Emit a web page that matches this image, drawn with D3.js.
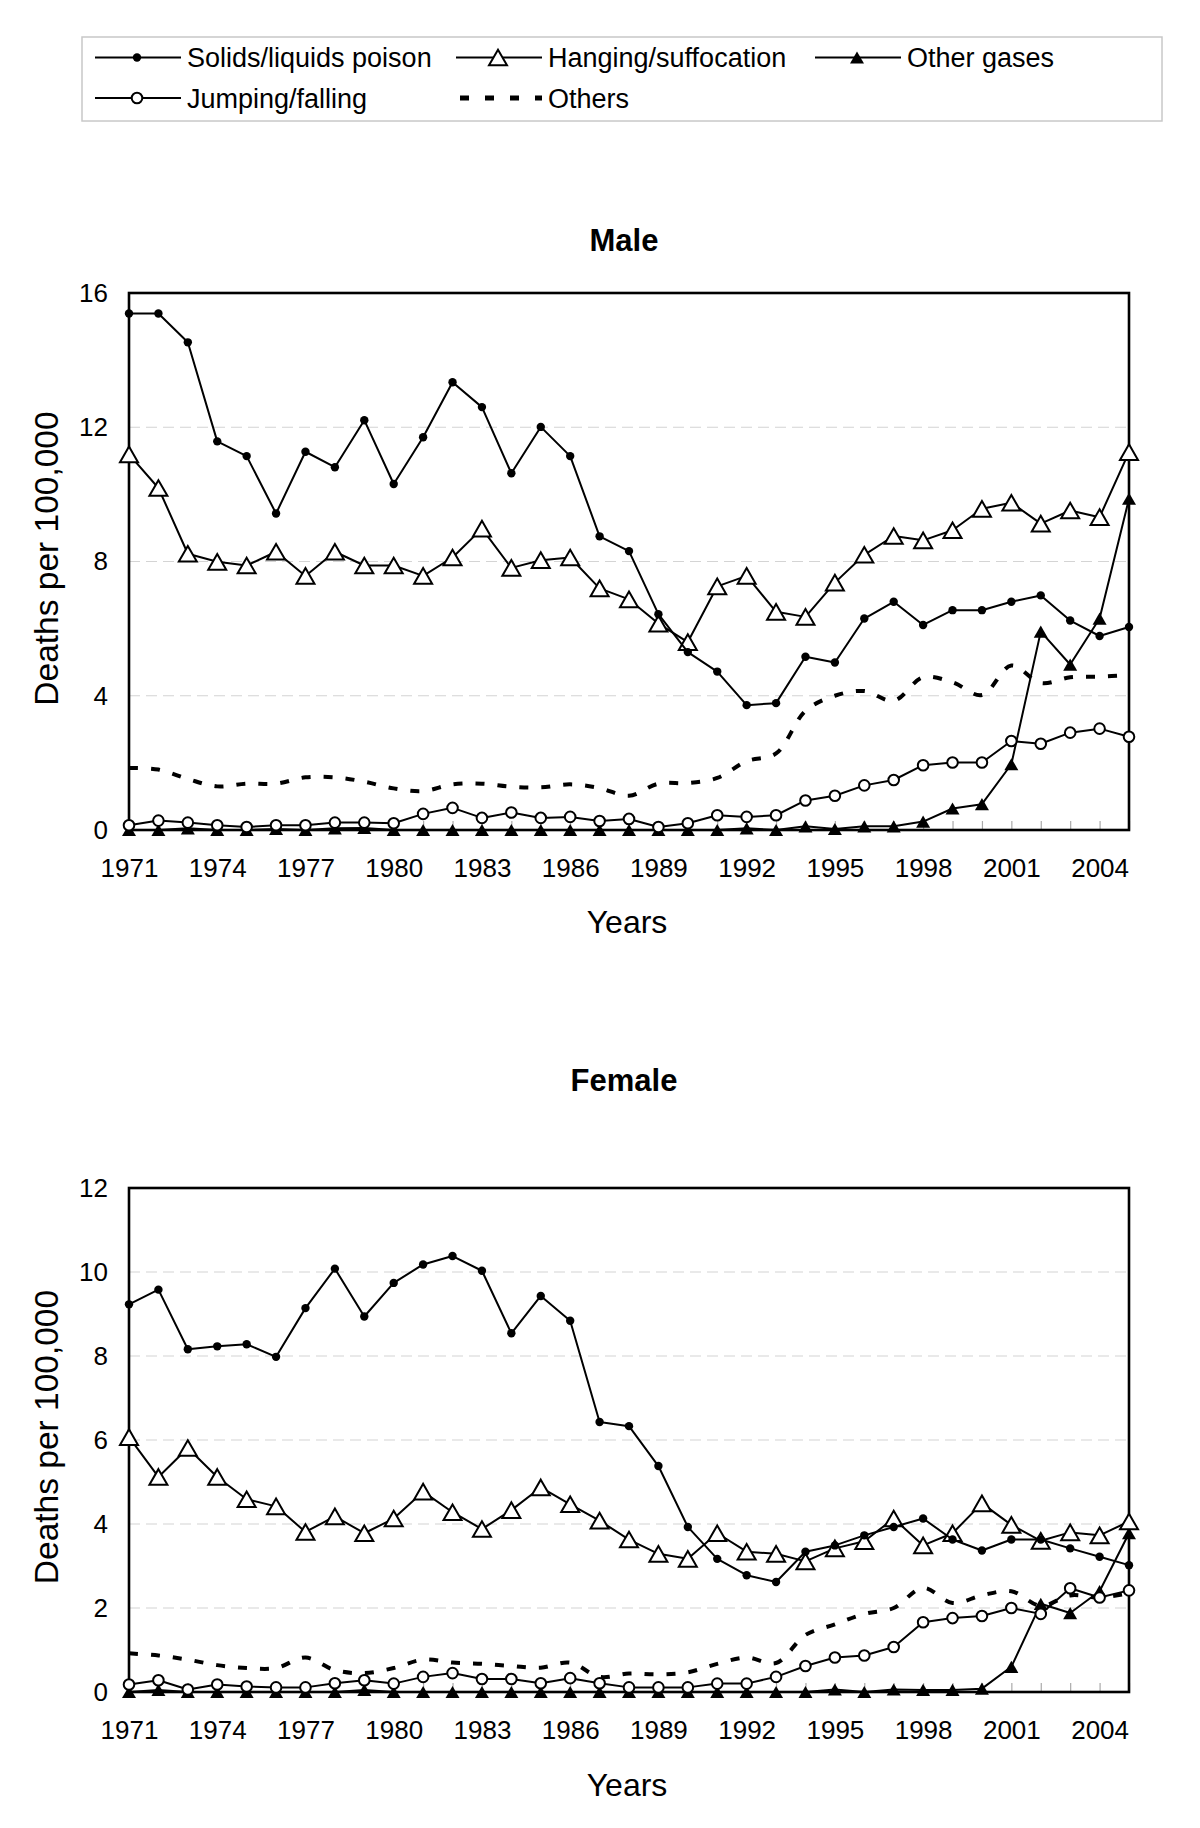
<!DOCTYPE html>
<html>
<head>
<meta charset="utf-8">
<script src="https://cdn.jsdelivr.net/npm/d3@7"></script>
<style>
  body { margin: 0; background: #fff; }
  svg { display: block; }
  text { font-family: "Liberation Sans", Arial, Helvetica, sans-serif; fill: #000; }
</style>
</head>
<body>
<svg id="chart" width="1200" height="1828"></svg>
<script>
// ---------------- DATA ----------------
const years = [1971,1972,1973,1974,1975,1976,1977,1978,1979,1980,1981,1982,1983,1984,1985,1986,1987,
               1988,1989,1990,1991,1992,1993,1994,1995,1996,1997,1998,1999,2000,2001,2002,2003,2004,2005];
const yearTickLabels = [1971,1974,1977,1980,1983,1986,1989,1992,1995,1998,2001,2004];
const seriesNames = ["Solids/liquids poison","Hanging/suffocation","Other gases","Jumping/falling","Others"];

const maleTicks = [0,4,8,12,16];
const femaleTicks = [0,2,4,6,8,10,12];

const maleSolids  = [15.39,15.39,14.53,11.58,11.14,9.43,11.27,10.81,12.21,10.31,11.70,13.34,12.60,10.63,12.01,11.14,8.75,
                     8.31,6.43,5.30,4.72,3.72,3.78,5.16,4.99,6.30,6.80,6.11,6.55,6.55,6.80,6.99,6.24,5.78,6.05];
const maleHanging = [11.19,10.19,8.23,7.99,7.88,8.29,7.57,8.29,7.88,7.88,7.57,8.12,8.98,7.81,8.04,8.12,7.20,
                     6.87,6.15,5.60,7.26,7.57,6.50,6.35,7.37,8.20,8.76,8.63,8.93,9.57,9.75,9.13,9.52,9.32,11.26];
const maleGases   = [0,0,0.05,0,0,0.03,0,0.05,0.06,0,0,0,0,0,0,0,0,
                     0,0,0,0,0.05,0,0.11,0.03,0.11,0.11,0.25,0.64,0.77,1.96,5.91,4.93,6.30,9.87];
const maleJumping = [0.14,0.28,0.22,0.14,0.09,0.14,0.14,0.22,0.22,0.20,0.48,0.66,0.36,0.52,0.36,0.39,0.27,
                     0.33,0.09,0.20,0.44,0.39,0.44,0.88,1.02,1.33,1.49,1.93,2.01,2.01,2.65,2.57,2.90,3.02,2.78];
const maleOthers  = [1.85,1.80,1.52,1.30,1.38,1.38,1.57,1.57,1.44,1.24,1.16,1.36,1.38,1.29,1.27,1.36,1.25,
                     1.02,1.38,1.40,1.55,2.05,2.28,3.55,4.00,4.14,3.85,4.55,4.40,4.02,4.90,4.38,4.55,4.57,4.62];

const femaleSolids  = [9.23,9.58,8.16,8.23,8.28,7.98,9.14,10.08,8.94,9.74,10.18,10.38,10.03,8.54,9.43,8.84,6.43,
                       6.33,5.38,3.93,3.17,2.78,2.62,3.34,3.49,3.73,3.93,4.13,3.63,3.37,3.63,3.63,3.42,3.22,3.02];
const femaleHanging = [6.07,5.12,5.81,5.12,4.59,4.42,3.81,4.18,3.78,4.13,4.77,4.28,3.88,4.33,4.87,4.47,4.08,
                       3.63,3.29,3.17,3.78,3.34,3.29,3.11,3.42,3.59,4.13,3.49,3.78,4.49,3.98,3.60,3.80,3.73,4.06];
const femaleGases   = [0,0.05,0,0,0,0,0,0,0.05,0,0,0,0,0,0,0,0,
                       0,0,0,0,0,0,0,0.06,0,0.06,0.05,0.05,0.08,0.60,2.10,1.88,2.40,3.78];
const femaleJumping = [0.18,0.28,0.06,0.18,0.13,0.11,0.11,0.21,0.28,0.20,0.36,0.45,0.31,0.31,0.21,0.33,0.21,
                       0.11,0.11,0.11,0.20,0.20,0.36,0.62,0.82,0.87,1.07,1.66,1.76,1.81,2.00,1.86,2.47,2.25,2.42];
const femaleOthers  = [0.92,0.87,0.77,0.64,0.57,0.57,0.82,0.52,0.45,0.57,0.77,0.70,0.67,0.62,0.58,0.70,0.36,
                       0.44,0.42,0.47,0.67,0.82,0.69,1.36,1.61,1.86,2.00,2.48,2.12,2.30,2.40,2.05,2.30,2.25,2.35];

// ---------------- STYLE ----------------
const markerOf = ["dot","triOpen","triFilled","circleOpen","none"];
const LINE_W = 2;

const svg = d3.select("#chart");
svg.append("rect").attr("width",1200).attr("height",1828).attr("fill","#fff");

function triPath(s){ const h = s*0.87; return `M0,${-h/2}L${s/2},${h/2}L${-s/2},${h/2}Z`; }

function drawMarker(g, type, x, y){
  if (type === "dot") {
    g.append("circle").attr("cx",x).attr("cy",y).attr("r",4.2).attr("fill","#000");
  } else if (type === "circleOpen") {
    g.append("circle").attr("cx",x).attr("cy",y).attr("r",5.3).attr("fill","#fff").attr("stroke","#000").attr("stroke-width",2);
  } else if (type === "triOpen") {
    g.append("path").attr("d",triPath(18)).attr("transform",`translate(${x},${y})`)
      .attr("fill","#fff").attr("stroke","#000").attr("stroke-width",2).attr("stroke-linejoin","miter");
  } else if (type === "triFilled") {
    g.append("path").attr("d",triPath(14)).attr("transform",`translate(${x},${y})`).attr("fill","#000");
  }
}

// ---------------- LEGEND ----------------
(function legend(){
  const g = svg.append("g");
  g.append("rect").attr("x",82).attr("y",37).attr("width",1080).attr("height",84)
    .attr("fill","#fff").attr("stroke","#c8c8c8").attr("stroke-width",1.5);
  const pos = [ {x:95,y:57.5}, {x:456,y:57.5}, {x:815,y:57.5}, {x:95,y:98}, {x:456,y:98} ];
  seriesNames.forEach((name,i)=>{
    const p = pos[i];
    const ln = g.append("line").attr("x1",p.x).attr("x2",p.x+86).attr("y1",p.y).attr("y2",p.y)
      .attr("stroke","#000");
    if (markerOf[i] === "none") ln.attr("stroke-width",5).attr("stroke-dasharray","9,16").attr("x1",p.x+4);
    else ln.attr("stroke-width",LINE_W);
    drawMarker(g, markerOf[i], p.x+42, p.y);
    g.append("text").attr("x",p.x+92).attr("y",p.y).attr("dy","0.36em")
      .style("font-size","27px").text(name);
  });
})();

// ---------------- PANELS ----------------
function panel(cfg){
  const x = d3.scaleLinear().domain([years[0], years[years.length-1]]).range([129,1129]);
  const y = d3.scaleLinear().domain([0, cfg.ticks[cfg.ticks.length-1]]).range([cfg.bottom, cfg.top]);
  const g = svg.append("g");

  // gridlines
  g.append("g").selectAll("line").data(cfg.ticks.filter(t=>t>0 && t<cfg.ticks[cfg.ticks.length-1])).join("line")
    .attr("x1",x.range()[0]).attr("x2",x.range()[1]).attr("y1",d=>y(d)).attr("y2",d=>y(d))
    .attr("stroke","#d4d4d4").attr("stroke-width",1.2).attr("stroke-dasharray","11,6");

  // inner year ticks
  g.append("g").attr("transform",`translate(0,${cfg.bottom})`)
    .call(d3.axisBottom(x).tickValues(years).tickSize(-9).tickFormat(""))
    .call(a=>a.select(".domain").remove())
    .call(a=>a.selectAll("line").attr("stroke","#aaa").attr("stroke-width",1.2));

  // x labels
  g.append("g").attr("transform",`translate(0,${cfg.bottom})`)
    .call(d3.axisBottom(x).tickValues(yearTickLabels).tickSize(0).tickPadding(29).tickFormat(d3.format("d")))
    .call(a=>a.select(".domain").remove())
    .call(a=>a.selectAll("text").style("font-size","26px").attr("fill","#000"));

  // y labels
  g.append("g").attr("transform",`translate(129,0)`)
    .call(d3.axisLeft(y).tickValues(cfg.ticks).tickSize(0).tickPadding(21).tickFormat(d3.format("d")))
    .call(a=>a.select(".domain").remove())
    .call(a=>a.selectAll("text").style("font-size","26px").attr("fill","#000"));

  // frame
  g.append("rect").attr("x",129).attr("y",cfg.top).attr("width",1000).attr("height",cfg.bottom-cfg.top)
    .attr("fill","none").attr("stroke","#000").attr("stroke-width",2.6);

  // titles
  g.append("text").attr("x",624).attr("y",cfg.titleY).attr("text-anchor","middle")
    .style("font-size","31px").style("font-weight","bold").text(cfg.title);
  g.append("text").attr("x",627).attr("y",cfg.yearsY).attr("text-anchor","middle")
    .style("font-size","32px").text("Years");
  g.append("text").attr("transform",`translate(46,${(cfg.top+cfg.bottom)/2 - 3}) rotate(-90)`)
    .attr("text-anchor","middle").attr("dy","0.35em").style("font-size","33.5px").text("Deaths per 100,000");

  // series: draw order others, gases, jumping, hanging, solids
  const order = [4,2,3,1,0];
  order.forEach(i=>{
    const vals = cfg.series[i];
    const pts = years.map((yr,k)=>[x(yr), y(vals[k])]);
    if (markerOf[i] === "none") {
      g.append("path").attr("d", d3.line().curve(d3.curveCatmullRom.alpha(0.5))(pts))
        .attr("fill","none").attr("stroke","#000").attr("stroke-width",4).attr("stroke-dasharray","9,13");
    } else {
      g.append("path").attr("d", d3.line()(pts))
        .attr("fill","none").attr("stroke","#000").attr("stroke-width",LINE_W).attr("stroke-linejoin","round");
      const mg = g.append("g");
      pts.forEach(p=>drawMarker(mg, markerOf[i], p[0], p[1]));
    }
  });
}

panel({ title:"Male", titleY:251, top:293, bottom:830, yearsY:933, ticks:maleTicks,
        series:[maleSolids, maleHanging, maleGases, maleJumping, maleOthers] });
panel({ title:"Female", titleY:1091, top:1188, bottom:1692, yearsY:1796, ticks:femaleTicks,
        series:[femaleSolids, femaleHanging, femaleGases, femaleJumping, femaleOthers] });
</script>
</body>
</html>
